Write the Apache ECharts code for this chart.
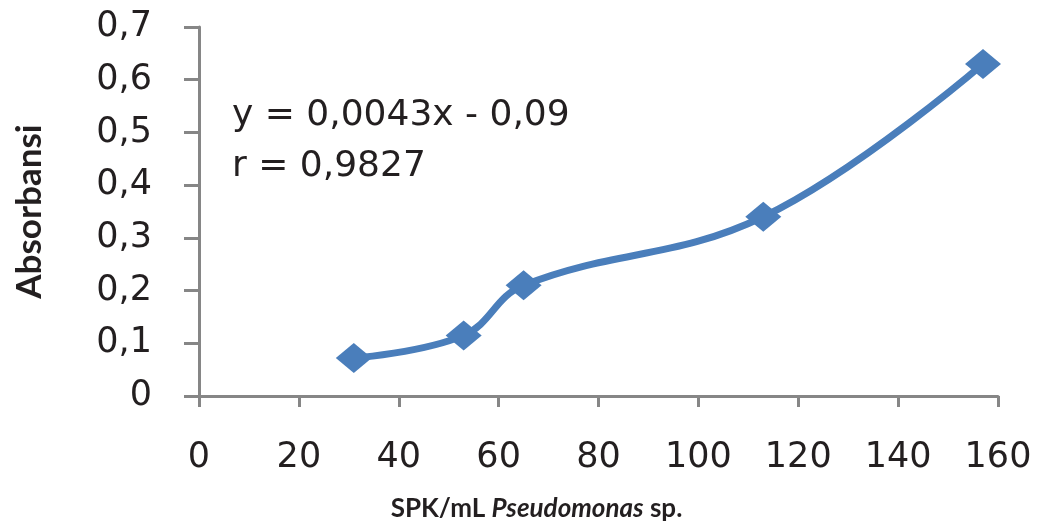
<!DOCTYPE html>
<html>
<head>
<meta charset="utf-8">
<script src="https://cdn.jsdelivr.net/npm/echarts@6/dist/echarts.min.js"></script>
<style>
  html, body { margin: 0; padding: 0; background: #fff; }
  #chart { width: 1039px; height: 527px; }
</style>
</head>
<body>
<div id="chart"></div>
<script>
// SPK/mL vs absorbance
const spk = [31, 53, 65, 113, 157];
const absorbansi = [0.072, 0.115, 0.21, 0.34, 0.63];
const eqLines = ['y = 0,0043x - 0,09', 'r = 0,9827'];

const AXIS_GREY = '#868686';
const LINE_BLUE = '#4a7ebb';
const TXT = '#231f20';

var chart = echarts.init(document.getElementById('chart'));

let opts = {
  animation: false,
  grid: { left: 199, right: 41, top: 27, bottom: 130 },
  xAxis: {
    type: 'value',
    min: 0,
    max: 160,
    interval: 20,
    splitLine: { show: false },
    axisLine: { lineStyle: { color: AXIS_GREY, width: 3 } },
    axisTick: { length: 11, lineStyle: { color: AXIS_GREY, width: 3 } },
    axisLabel: {
      margin: 44,
      fontFamily: 'DejaVu Sans',
      fontSize: 35,
      color: TXT
    },
    name: '{b|SPK/mL }{i|Pseudomonas}{b| sp.}',
    nameLocation: 'middle',
    nameGap: 100,
    nameTextStyle: {
      padding: [0, 124, 0, 0],
      rich: {
        b: { fontFamily: 'Lato', fontWeight: 'bold', fontSize: 26, color: TXT },
        i: { fontFamily: 'Lato', fontWeight: 'bold', fontStyle: 'italic', fontSize: 26, color: TXT }
      }
    }
  },
  yAxis: {
    type: 'value',
    min: 0,
    max: 0.7,
    interval: 0.1,
    splitLine: { show: false },
    axisLine: { show: true, lineStyle: { color: AXIS_GREY, width: 3 } },
    axisTick: { show: true, length: 15, lineStyle: { color: AXIS_GREY, width: 3 } },
    axisLabel: {
      margin: 47,
      fontFamily: 'DejaVu Sans',
      fontSize: 35,
      color: TXT,
      formatter: (v) => (Math.round(v * 10) / 10).toString().replace('.', ',')
    },
    name: 'Absorbansi',
    nameLocation: 'middle',
    nameGap: 152,
    nameTextStyle: {
      fontFamily: 'Lato',
      fontWeight: 'bold',
      fontSize: 35,
      color: TXT
    }
  },
  graphic: [{
    type: 'text',
    left: 232,
    top: 90,
    style: {
      text: eqLines.join('\n'),
      fontFamily: 'DejaVu Sans',
      fontSize: 36,
      lineHeight: 51,
      fill: TXT
    }
  }],
  series: [{
    type: 'line',
    data: spk.map((x, i) => [x, absorbansi[i]]),
    smooth: 0.4,
    symbol: 'diamond',
    symbolSize: [36, 30],
    lineStyle: { color: LINE_BLUE, width: 7 },
    itemStyle: { color: LINE_BLUE },
    z: 3
  }]
};

chart.setOption(opts);
</script>
</body>
</html>
